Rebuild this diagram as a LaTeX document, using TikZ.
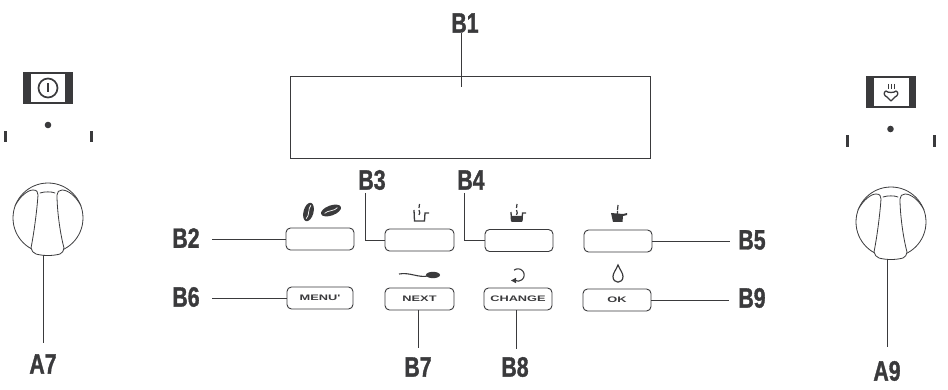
\documentclass[tikz,border=0pt]{standalone}
\usepackage{fontspec}
\setmainfont{Liberation Sans}
\newfontfamily\lblfont[FakeStretch=0.76,FakeBold=1.2]{Liberation Sans Bold}
\newfontfamily\keyfont[FakeStretch=1.6]{Liberation Sans Bold}
\definecolor{ink}{HTML}{3A3A3C}
\tikzset{
  lab/.style={font=\lblfont\fontsize{28}{28}\selectfont,text=ink,inner sep=0pt,anchor=center},
  btn/.style={draw=ink,line width=0.9pt,rounded corners=4.5pt,minimum width=68pt,minimum height=22pt,inner sep=0pt,font=\keyfont\fontsize{8}{8}\selectfont,text=ink},
  conn/.style={draw=ink,line width=0.9pt},
  knobline/.style={draw=ink,line width=0.8pt,line cap=round,line join=round}
}
\begin{document}
\begin{tikzpicture}[x=1pt,y=-1pt]
\useasboundingbox (0,0) rectangle (948,390);
% display
\node[draw=ink,line width=1pt,minimum width=360pt,minimum height=82pt,inner sep=0pt] (disp) at (470,118) {};
\node[lab] (lB1) at (465,23) {B1};
\coordinate (eB1) at (461,33);
\coordinate (fB1) at (461,87);
\draw[conn] (eB1) -- (fB1);
% buttons
\node[btn] (bB2) at (320,239) {};
\node[btn,minimum width=69pt] (bB3) at (419.5,240) {};
\node[btn] (bB4) at (519,240.5) {};
\node[btn] (bB5) at (618,241) {};
\node[btn,minimum width=66pt] (bB6) at (320,298) {MENU'};
\node[btn,minimum width=69pt] (bB7) at (419.5,299) {NEXT};
\node[btn] (bB8) at (518,299) {CHANGE};
\node[btn] (bB9) at (617,300) {OK};
% labels
\node[lab] (lB2) at (186,238) {B2};
\node[lab] (lB3) at (372,180) {B3};
\node[lab] (lB4) at (471,180) {B4};
\node[lab] (lB5) at (752,240) {B5};
\node[lab] (lB6) at (186,297) {B6};
\node[lab] (lB7) at (418,367) {B7};
\node[lab] (lB8) at (515,367) {B8};
\node[lab] (lB9) at (752,298) {B9};
\node[lab] (lA7) at (43,364) {A7};
\node[lab] (lA9) at (887,371) {A9};
% connectors
\coordinate (eB2) at (212,239);
\coordinate (eB3) at (365,193);
\coordinate (eB4) at (464,193);
\coordinate (eB5) at (730,241);
\coordinate (eB6) at (212,298);
\coordinate (eB7) at (418,348);
\coordinate (eB8) at (516,349);
\coordinate (eB9) at (729,300);
\draw[conn] (eB2) -- (bB2.west);
\draw[conn] (eB3) |- (bB3.west);
\draw[conn] (eB4) |- (bB4.west);
\draw[conn] (bB5.east) -- (eB5);
\draw[conn] (eB6) -- (bB6.west);
\draw[conn] (bB7.south -| eB7) -- (eB7);
\draw[conn] (bB8.south -| eB8) -- (eB8);
\draw[conn] (bB9.east) -- (eB9);
% left selector
\begin{scope}[shift={(48,88)}]
  \fill[ink] (-25,-16) rectangle (25,16);
  \fill[white] (-17,-14) rectangle (17,14);
  \draw[ink,line width=1.7pt] (0,0) circle[radius=9.5];
  \draw[ink,line width=2.6pt] (0,-4.5) -- (0,4.5);
\end{scope}
\fill[ink] (48,125) circle[radius=3.3];
\fill[ink] (3.5,131) rectangle (6.5,142);
\fill[ink] (89.5,131) rectangle (92.5,142);
% right selector
\begin{scope}[shift={(891,92)}]
  \fill[ink] (-25,-16) rectangle (25,16);
  \fill[white] (-17,-14) rectangle (18,14);
  \draw[ink,line width=1.3pt,line join=round] (-5,-1) .. controls (-8,0) and (-7,4) .. (-4,5) -- (0,9) -- (4,5) .. controls (7,4) and (8,0) .. (5,-1) .. controls (3,1) and (-3,1) .. (-5,-1) -- cycle;
  \draw[ink,line width=1pt] (-3,-8) -- (-3,-3) (0,-8) -- (0,-3) (3,-8) -- (3,-3);
\end{scope}
\fill[ink] (890.5,129) circle[radius=3.3];
\fill[ink] (845.5,135) rectangle (848.5,147);
\fill[ink] (932.5,135) rectangle (935.5,147);
% knobs
\foreach \kx/\ky in {48/218,891/222}{
\begin{scope}[shift={(\kx,\ky)}]
  \draw[knobline] (0,0) circle[radius=35];
  \draw[knobline,fill=white] (-33,-12) .. controls (-28,-22) and (-20,-28) .. (-15,-28)
    .. controls (-11,-28) and (-10,-26) .. (-10,-23)
    .. controls (-11,-8) and (-14,15) .. (-17,30)
    .. controls (-17,33) and (-14,35) .. (-12,36)
    .. controls (-5,38) and (5,38) .. (12,36)
    .. controls (14,35) and (16,33) .. (16,30)
    .. controls (12,15) and (9,-8) .. (9,-23)
    .. controls (9,-26) and (11,-28) .. (14,-28)
    .. controls (20,-28) and (28,-22) .. (33,-12);
  \draw[knobline] (-8,-25) .. controls (-4,-26.5) and (4,-26.5) .. (7,-25);
\end{scope}}
\coordinate (eA7) at (43,343);
\coordinate (eA9) at (887,347);
\coordinate (sA7) at (43,255);
\coordinate (sA9) at (887,259);
\draw[conn] (sA7) -- (eA7);
\draw[conn] (sA9) -- (eA9);
% beans
\begin{scope}[shift={(308.5,212)},rotate=-15]
  \fill[ink] (0,0) ellipse[x radius=5,y radius=9.5];
  \draw[white,line width=0.7pt] (0.5,-7) .. controls (-1.5,-3) and (2,3) .. (-0.5,7);
\end{scope}
\begin{scope}[shift={(331,210.5)},rotate=20]
  \fill[ink] (0,0) ellipse[x radius=10.5,y radius=5];
  \draw[white,line width=0.7pt] (-7,0.5) .. controls (-3,-1.5) and (3,2) .. (7,-0.5);
\end{scope}
% spoon
\draw[ink,line width=1.1pt] (399,274) .. controls (410,272) and (418,278) .. (428,276);
\fill[ink] (433,275) ellipse[x radius=7,y radius=3.2];
% change
\draw[ink,line width=1.1pt] (518,275) ++(-130:6.2) arc[start angle=-130,end angle=120,radius=6.2];
\fill[ink] (516,277.8) -- (516,283.2) -- (511,280.5) -- cycle;
% drop
\draw[ink,line width=1.2pt] (618,265) .. controls (616,270) and (613,273) .. (613,276.5) .. controls (613,284) and (623,284) .. (623,276.5) .. controls (623,273) and (620,270) .. (618,265) -- cycle;
% cups
\begin{scope}[shift={(420,213)}]
  \draw[ink,line width=1.3pt] (-6,-3) -- (-5.5,8) -- (4.5,8) -- (5,0) -- (9,0);
  \draw[ink,line width=1.2pt] (-0.5,-9) -- (-1,-5) (-1,-3) .. controls (0,-1) and (0,1) .. (-1,2);
\end{scope}
\begin{scope}[shift={(517,213)}]
  \fill[ink] (-6,3) -- (5.5,3) -- (5,9) -- (-5.5,9) -- cycle;
  \draw[ink,line width=1.3pt] (-6,-1) -- (-5.5,8) (5,8) -- (5.5,0) -- (9,0);
  \draw[ink,line width=1.2pt] (0,-9) -- (-0.5,-5) (-0.5,-3) .. controls (0.5,-1) and (0.5,1) .. (-0.5,2);
\end{scope}
\begin{scope}[shift={(618,213)}]
  \fill[ink] (-7,0) -- (5,1) -- (9,0) -- (9,2) -- (5,3) -- (4.5,9) -- (-5,9) -- cycle;
  \draw[ink,line width=1.2pt] (0,-8) -- (-0.5,-3) (-0.5,-2) -- (-0.5,1);
\end{scope}
\end{tikzpicture}
\end{document}
